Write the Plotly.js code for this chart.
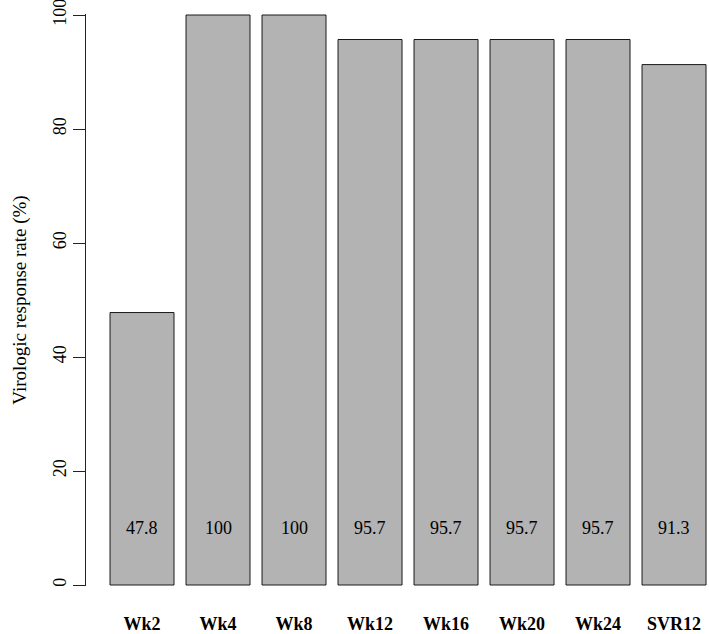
<!DOCTYPE html>
<html>
<head>
<meta charset="utf-8">
<script src="https://cdn.plot.ly/plotly-3.0.1.min.js"></script>
<style>
  html, body { margin: 0; padding: 0; background: #fff; }
  #chart { width: 709px; height: 634px; }
</style>
</head>
<body>
<div id="chart"></div>
<script>
// visit labels and response rates (%)
const VISITS = ['Wk2', 'Wk4', 'Wk8', 'Wk12', 'Wk16', 'Wk20', 'Wk24', 'SVR12'];
const RATES = [47.8, 100, 100, 95.7, 95.7, 95.7, 95.7, 91.3];
const Y_TICKS = [0, 20, 40, 60, 80, 100];
const LABEL_Y = 10; // value labels sit low inside each bar

const FONT = 'Liberation Serif, Times New Roman, serif';

const bars = {
  type: 'bar',
  x: VISITS,
  y: RATES,
  marker: { color: '#b3b3b3', line: { color: '#1a1a1a', width: 1 } },
  hoverinfo: 'skip'
};

const valueLabels = VISITS.map((v, i) => ({
  x: v, y: LABEL_Y, xref: 'x', yref: 'y',
  text: String(RATES[i]), showarrow: false,
  font: { family: FONT, size: 18, color: '#000' }
}));

const layout = {
  width: 709, height: 634,
  paper_bgcolor: '#fff', plot_bgcolor: '#fff',
  margin: { l: 86, r: 1, t: 14, b: 48 },
  showlegend: false,
  bargap: 0.158,
  font: { family: FONT, color: '#000' },
  xaxis: {
    type: 'category',
    range: [-0.737, 7.447],
    showline: false, showgrid: false, zeroline: false,
    ticks: '', ticklabelstandoff: 25,
    tickfont: { family: FONT, size: 18, color: '#000', weight: 'bold' }
  },
  yaxis: {
    range: [-0.175, 100.175],
    tickvals: Y_TICKS,
    ticktext: Y_TICKS.map(String),
    tickangle: -90,
    ticklabeloverflow: 'allow',
    ticks: 'outside', ticklen: 12, tickwidth: 1, tickcolor: '#222',
    showline: true, linecolor: '#222', linewidth: 1,
    showgrid: false, zeroline: false,
    tickfont: { family: FONT, size: 18, color: '#000' },
    title: { text: 'Virologic response rate (%)', font: { family: FONT, size: 19, color: '#000' }, standoff: 18 },
    automargin: false
  },
  annotations: valueLabels
};

Plotly.newPlot('chart', [bars], layout, { displayModeBar: false, staticPlot: true });
</script>
</body>
</html>
